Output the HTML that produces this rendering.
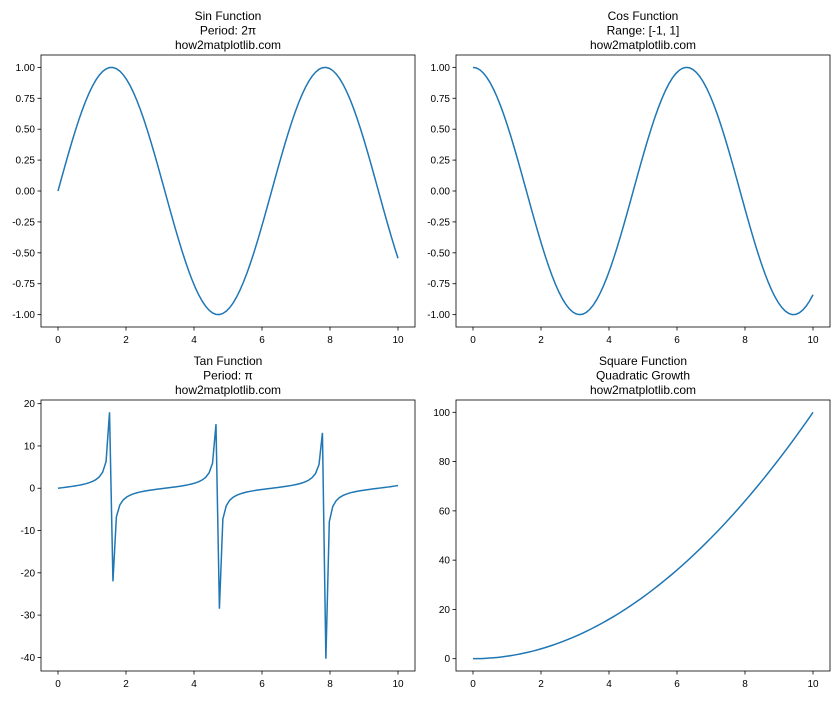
<!DOCTYPE html>
<html><head><meta charset="utf-8"><style>
body{margin:0;background:#fff}
svg{font-family:"Liberation Sans","DejaVu Sans",sans-serif}
</style></head><body>
<svg id="s" width="840" height="700" xmlns="http://www.w3.org/2000/svg"></svg>
<script>
const s=document.getElementById('s');let h='';
const N=100,xs=[];for(let i=0;i<N;i++)xs.push(10*i/(N-1));
const panels=[
 {x0:41,x1:415,y0:55,y1:327,f:Math.sin,ymin:-1.1,ymax:1.1,ticks:[-1,-0.75,-0.5,-0.25,0,0.25,0.5,0.75,1],fmt:v=>v.toFixed(2),t:['Sin Function','Period: 2π','how2matplotlib.com']},
 {x0:456,x1:830,y0:55,y1:327,f:Math.cos,ymin:-1.1,ymax:1.1,ticks:[-1,-0.75,-0.5,-0.25,0,0.25,0.5,0.75,1],fmt:v=>v.toFixed(2),t:['Cos Function','Range: [-1, 1]','how2matplotlib.com']},
 {x0:41,x1:415,y0:400,y1:671,f:Math.tan,ticks:[-40,-30,-20,-10,0,10,20],fmt:v=>''+v,t:['Tan Function','Period: π','how2matplotlib.com']},
 {x0:456,x1:830,y0:400,y1:671,f:x=>x*x,ticks:[0,20,40,60,80,100],fmt:v=>''+v,t:['Square Function','Quadratic Growth','how2matplotlib.com']}
];
for(const p of panels){
 const ys=xs.map(p.f);
 if(p.ymin===undefined){const mn=Math.min(...ys),mx=Math.max(...ys),r=mx-mn;p.ymin=mn-0.05*r;p.ymax=mx+0.05*r;}
 const X=v=>p.x0+(v+0.5)/11*(p.x1-p.x0), Y=v=>p.y1-(v-p.ymin)/(p.ymax-p.ymin)*(p.y1-p.y0);
 h+=`<polyline fill="none" stroke="#1f77b4" stroke-width="1.5" points="${xs.map((x,i)=>X(x).toFixed(2)+','+Y(ys[i]).toFixed(2)).join(' ')}"/>`;
 h+=`<rect x="${p.x0}" y="${p.y0}" width="${p.x1-p.x0}" height="${p.y1-p.y0}" fill="none" stroke="#000" stroke-width="0.8"/>`;
 for(let v=0;v<=10;v+=2){const x=X(v);h+=`<line x1="${x}" x2="${x}" y1="${p.y1}" y2="${p.y1+3.5}" stroke="#000" stroke-width="0.8"/><text x="${x}" y="${p.y1+16}" font-size="10" text-anchor="middle">${v}</text>`;}
 for(const v of p.ticks){const y=Y(v);h+=`<line x1="${p.x0-3.5}" x2="${p.x0}" y1="${y}" y2="${y}" stroke="#000" stroke-width="0.8"/><text x="${p.x0-6}" y="${y+3.5}" font-size="10" text-anchor="end">${p.fmt(v)}</text>`;}
 const cx=(p.x0+p.x1)/2;p.t.forEach((t,i)=>{h+=`<text x="${cx}" y="${p.y0-35+i*14.5}" font-size="12" text-anchor="middle">${t}</text>`;});
}
s.innerHTML=h;
</script>
</body></html>
